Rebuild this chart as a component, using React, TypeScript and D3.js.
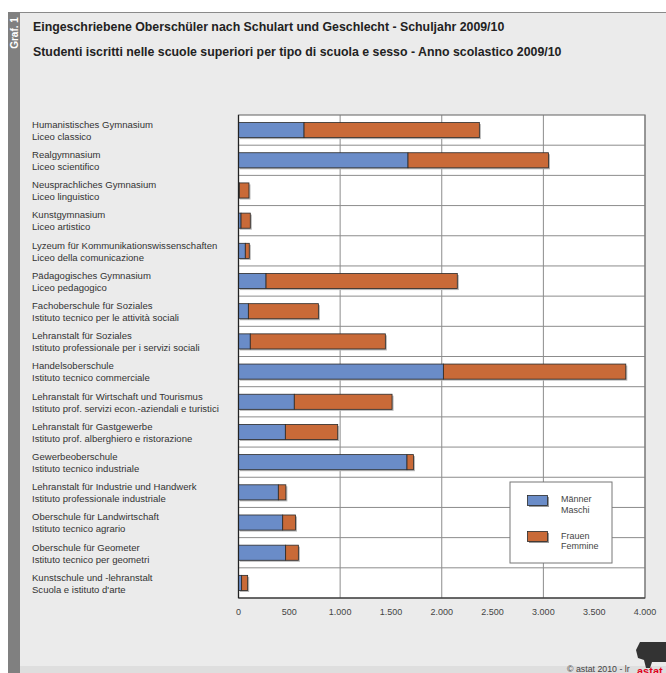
import React from 'react';
import * as d3 from 'd3';

// school types, German / Italian label lines
const labelsDe = [
  'Humanistisches Gymnasium',
  'Realgymnasium',
  'Neusprachliches Gymnasium',
  'Kunstgymnasium',
  'Lyzeum für Kommunikationswissenschaften',
  'Pädagogisches Gymnasium',
  'Fachoberschule für Soziales',
  'Lehranstalt für Soziales',
  'Handelsoberschule',
  'Lehranstalt für Wirtschaft und Tourismus',
  'Lehranstalt für Gastgewerbe',
  'Gewerbeoberschule',
  'Lehranstalt für Industrie und Handwerk',
  'Oberschule für Landwirtschaft',
  'Oberschule für Geometer',
  'Kunstschule und -lehranstalt',
];
const labelsIt = [
  'Liceo classico',
  'Liceo scientifico',
  'Liceo linguistico',
  'Liceo artistico',
  'Liceo della comunicazione',
  'Liceo pedagogico',
  'Istituto tecnico per le attività sociali',
  'Istituto professionale per i servizi sociali',
  'Istituto tecnico commerciale',
  'Istituto prof. servizi econ.-aziendali e turistici',
  'Istituto prof. alberghiero e ristorazione',
  'Istituto tecnico industriale',
  'Istituto professionale industriale',
  'Istituto tecnico agrario',
  'Istituto tecnico per geometri',
  "Scuola e istituto d'arte",
];
const maschi = [645, 1668, 8, 25, 67, 271, 97, 116, 2016, 549, 461, 1658, 392, 435, 464, 31];
const femmine = [1725, 1382, 95, 91, 39, 1882, 689, 1329, 1795, 962, 515, 63, 74, 126, 125, 59];
const xTicks = [0, 500, 1000, 1500, 2000, 2500, 3000, 3500, 4000];
const gridTicks = [1000, 2000, 3000, 4000];

const BLUE = '#6a8cc8';
const ORANGE = '#c96a38';
const FONT = 'Arial, "Liberation Sans", Helvetica, sans-serif';

const fmt = (v: number) => d3.format(',')(v).replace(/,/g, '.');

export default function App() {
  const W = 666, H = 673;
  const left = 238.5, right = 645, top = 115, bottom = 598;

  const x = d3.scaleLinear().domain([0, 4000]).range([left, right]);
  const y = d3.scaleBand<number>().domain(d3.range(labelsDe.length)).range([top, bottom]).paddingInner(0).paddingOuter(0);
  const bh = y.bandwidth() * 0.5;

  return (
    <svg width={W} height={H} style={{ position: 'absolute', left: 0, top: 0 }} fontFamily={FONT}>
      <rect x={20} y={12} width={W - 20} height={H - 12} fill="#ebebeb" />
      <rect x={20} y={666} width={W - 20} height={7} fill="#dedede" />
      <line x1={8} x2={W} y1={12.5} y2={12.5} stroke="#8a8a8a" strokeWidth={1} />
      <rect x={8} y={12} width={12} height={H - 12} fill="#808080" />
      <text transform="translate(18,33) rotate(-90)" textAnchor="middle" fill="#fff" fontSize={10} fontWeight="bold">Graf. 1</text>

      <text x={33} y={31} fontSize={12.35} fontWeight="bold" fill="#222">Eingeschriebene Oberschüler nach Schulart und Geschlecht - Schuljahr 2009/10</text>
      <text x={33} y={56} fontSize={12.35} fontWeight="bold" fill="#222">Studenti iscritti nelle scuole superiori per tipo di scuola e sesso - Anno scolastico 2009/10</text>

      {/* plot background */}
      <rect x={left} y={top} width={right - left} height={bottom - top} fill="#fff" />
      {gridTicks.map(t => (
        <line key={'v' + t} x1={x(t)} x2={x(t)} y1={top} y2={bottom} stroke="#8c8c8c" strokeWidth={1} />
      ))}
      {d3.range(1, labelsDe.length).map(i => (
        <line key={'h' + i} x1={left} x2={right} y1={y(i)} y2={y(i)} stroke="#8c8c8c" strokeWidth={1} />
      ))}
      <rect x={left} y={top} width={right - left} height={bottom - top} fill="none" stroke="#7a7a7a" strokeWidth={1.2} />

      {/* bars */}
      {labelsDe.map((_, i) => {
        const y0 = (y(i) as number) + (y.bandwidth() - bh) / 2;
        const m = maschi[i], f = femmine[i];
        return (
          <g key={'b' + i}>
            <rect x={x(0) + 1.5} y={y0 + 1.5} width={x(m + f) - x(0)} height={bh} fill="#b5b5b5" />
            <rect x={x(0)} y={y0} width={x(m) - x(0)} height={bh} fill={BLUE} stroke="#2a2a2a" strokeWidth={0.8} />
            <rect x={x(m)} y={y0} width={x(m + f) - x(m)} height={bh} fill={ORANGE} stroke="#2a2a2a" strokeWidth={0.8} />
          </g>
        );
      })}
      <line x1={left} x2={left} y1={top} y2={bottom} stroke="#222" strokeWidth={1.2} />
      <line x1={left} x2={right} y1={bottom} y2={bottom} stroke="#222" strokeWidth={1.2} />

      {/* category labels */}
      {labelsDe.map((d, i) => {
        const c = (y(i) as number) + y.bandwidth() / 2;
        return (
          <g key={'l' + i} fontSize={9.55} fill="#333">
            <text x={32} y={c - 2.2}>{d}</text>
            <text x={32} y={c + 9.8}>{labelsIt[i]}</text>
          </g>
        );
      })}

      {/* x ticks */}
      {xTicks.map(t => (
        <text key={'t' + t} x={x(t)} y={615} textAnchor="middle" fontSize={9} fill="#444">{fmt(t)}</text>
      ))}

      {/* legend */}
      <g>
        <rect x={510} y={482} width={102} height={81} fill="#fff" stroke="#777" strokeWidth={1} />
        <rect x={529} y={497} width={20} height={10} fill="#9a9a9a" />
        <rect x={527.5} y={495.5} width={20} height={10} fill={BLUE} stroke="#2a2a2a" strokeWidth={0.8} />
        <text x={561} y={502} fontSize={9} fill="#444">Männer</text>
        <text x={561} y={513} fontSize={9} fill="#444">Maschi</text>
        <rect x={529} y={533} width={20} height={10} fill="#9a9a9a" />
        <rect x={527.5} y={531.5} width={20} height={10} fill={ORANGE} stroke="#2a2a2a" strokeWidth={0.8} />
        <text x={561} y={539} fontSize={9} fill="#444">Frauen</text>
        <text x={561} y={549} fontSize={9} fill="#444">Femmine</text>
      </g>

      {/* footer, cut at the page edge like the original */}
      <text x={567} y={672} fontSize={8.8} fill="#444">© astat 2010 - lr</text>
      <path d="M640,642 L666,642 L666,662 L652,662 L650,668 L646,668 L644,660 L638,658 L636,650 Z" fill="#333" />
      <text x={637} y={675} fontSize={11} fontWeight="bold" fill="#e3001b">astat</text>
    </svg>
  );
}
